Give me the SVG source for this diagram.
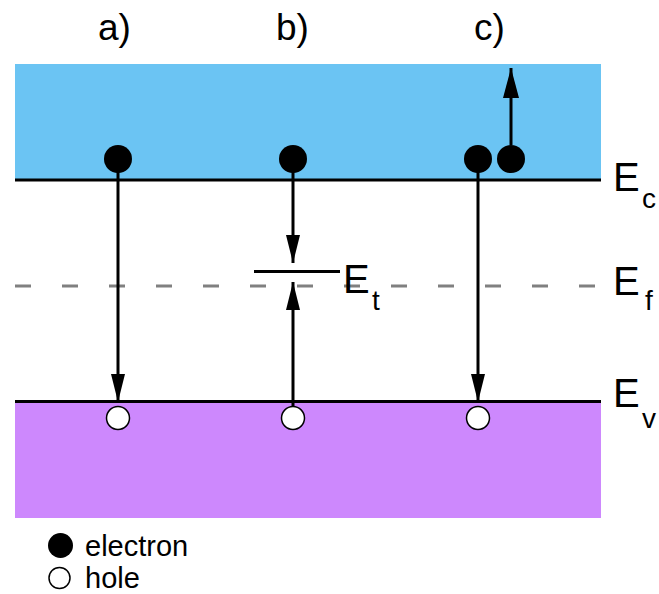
<svg xmlns="http://www.w3.org/2000/svg" width="659" height="594" viewBox="0 0 659 594">
<style>
text{font-family:"Liberation Sans",Arial,sans-serif;fill:#000}
.lbl{font-size:37px}
.E{font-size:40px}
.sub{font-size:28px}
.leg{font-size:29px}
.band{stroke:#000;stroke-width:3}
.arr{stroke:#000;stroke-width:3;fill:none}
.el{fill:#000}
.hole{fill:#fff;stroke:#000;stroke-width:1.5}
</style>
<defs>
<marker id="ah" markerUnits="userSpaceOnUse" markerWidth="28" markerHeight="16" refX="28" refY="8" orient="auto">
<path d="M0,1 L28,8 L0,15 z" fill="#000"/>
</marker>
<marker id="ah2" markerUnits="userSpaceOnUse" markerWidth="30" markerHeight="16" refX="30" refY="8" orient="auto">
<path d="M0,0 L30,8 L0,16 z" fill="#000"/>
</marker>
</defs>
<g id="bands">
<rect x="15" y="64" width="586" height="116" fill="#6bc4f3"/>
<rect x="15" y="402" width="586" height="116" fill="#cd88fd"/>
<line class="band" x1="15" y1="180" x2="601" y2="180"/>
<line class="band" x1="15" y1="401.5" x2="601" y2="401.5"/>
<line x1="15" y1="286" x2="601" y2="286" stroke="#808080" stroke-width="3" stroke-dasharray="16 31"/>
<line class="band" x1="254" y1="271.5" x2="340" y2="271.5"/>
</g>
<g id="labels">
<text class="lbl" x="98" y="40">a)</text>
<text class="lbl" x="276" y="40">b)</text>
<text class="lbl" x="474" y="40">c)</text>
<text class="E" x="613" y="191">E</text><text class="sub" x="642" y="208">c</text>
<text class="E" x="613" y="295">E</text><text class="sub" x="645" y="310">f</text>
<text class="E" x="613" y="407">E</text><text class="sub" x="642" y="428">v</text>
<text class="E" x="343" y="293">E</text><text class="sub" x="372" y="310">t</text>
</g>
<g id="connectors">
<line class="arr" x1="118" y1="172" x2="118" y2="402" marker-end="url(#ah)"/>
<line class="arr" x1="293" y1="172" x2="293" y2="263" marker-end="url(#ah)"/>
<line class="arr" x1="293" y1="406" x2="293" y2="282" marker-end="url(#ah)"/>
<line class="arr" x1="478" y1="172" x2="478" y2="402" marker-end="url(#ah)"/>
<line class="arr" x1="511" y1="145" x2="511" y2="68" marker-end="url(#ah2)"/>
</g>
<g id="electron-a"><circle class="el" cx="118" cy="159" r="14"/></g>
<g id="electron-b"><circle class="el" cx="293" cy="159" r="14"/></g>
<g id="electron-c1"><circle class="el" cx="478" cy="159" r="14"/></g>
<g id="electron-c2"><circle class="el" cx="511" cy="159" r="14"/></g>
<g id="hole-a"><circle class="hole" cx="118" cy="418" r="11.5"/></g>
<g id="hole-b"><circle class="hole" cx="293" cy="418" r="11.5"/></g>
<g id="hole-c"><circle class="hole" cx="478" cy="418" r="11.5"/></g>
<g id="legend">
<circle class="el" cx="60.5" cy="545.5" r="12.5"/>
<text class="leg" x="85" y="556">electron</text>
<circle class="hole" cx="59.5" cy="578" r="10.5"/>
<text class="leg" x="85" y="588">hole</text>
</g>
</svg>
